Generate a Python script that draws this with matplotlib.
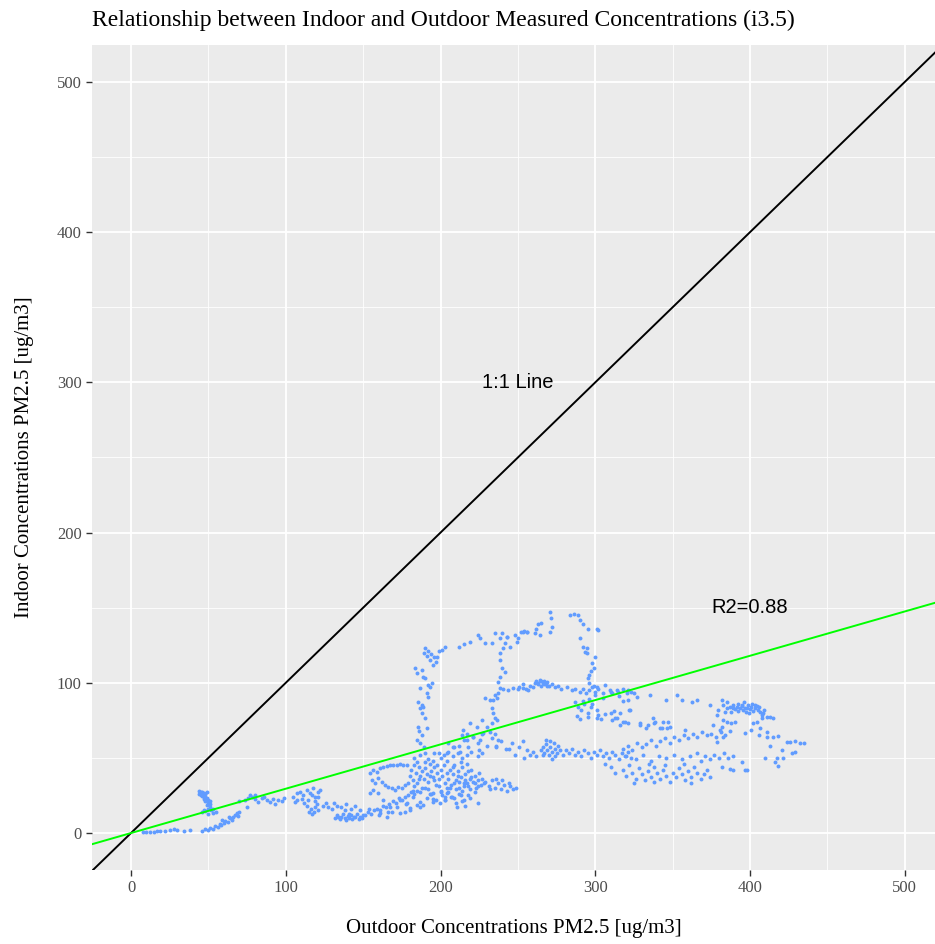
import matplotlib.pyplot as plt
import numpy as np

# Outdoor / indoor PM2.5 readings (ug/m3), grouped by stretch of the record
low_tail = [(8, 0.5), (10, 1), (12, 0.8), (15, 0.7), (17, 1.5), (19, 1.2), (22, 1.3), (25, 2),
            (28, 2.7), (30, 1.8), (34, 1.3), (38, 2.2)]
spike_50 = [(44, 28), (45, 27), (46, 27.5), (47, 26.5), (48, 26), (45, 25.5), (46, 24.5), (48, 24),
            (49, 23), (50, 22), (47, 22.5), (48, 21), (50, 20), (51, 19), (49, 18.5), (51, 17.5),
            (50, 16), (52, 15), (48, 14.5), (46, 14), (50, 13), (53, 13.5), (47, 24), (49, 27),
            (51, 21), (44, 26), (53, 16), (47, 15), (55, 14)]
rise_60 = [(46, 1.5), (48, 2.7), (50, 2), (51, 3.3), (53, 3), (54, 4.7), (56, 4), (57.5, 6),
           (59, 8.7), (61, 8), (62.7, 7.3), (64, 10), (66, 10.7), (67, 12), (68.5, 13.3), (65, 9),
           (60, 6.5), (69, 11.5), (63, 11), (58, 5.2), (70, 14)]
band_80 = [(70, 21), (73.6, 22), (75.6, 23.3), (78.2, 24), (80.1, 22.6), (82, 20.6), (84.6, 23.3),
           (87.9, 22), (89.8, 20.6), (91.7, 22.6), (95, 22), (97.5, 21.3), (75, 17), (77, 25),
           (80, 25), (86, 24), (93, 19.5), (99, 23)]
cluster_110 = [(104.7, 24), (107.2, 26.6), (109.2, 27.3), (111.1, 25.3), (113.7, 28.6), (115.6, 26.6),
               (117.6, 30), (118.9, 24), (120.8, 27.3), (122.1, 28.6), (107.2, 22), (110.5, 22.6),
               (114.3, 22), (116.9, 25.3), (119, 21), (112, 20), (106, 20.5), (121, 24),
               (114, 18), (116, 16), (118, 14), (119, 17), (121, 15), (117, 13), (120, 19), (115, 14)]
band_140 = [(124, 18), (127, 17), (130, 16), (133, 18), (136, 17), (139, 19), (142, 16), (145, 18),
            (148, 15), (126, 20), (131, 20), (138, 15),
            (132, 10), (133, 12), (135, 9.5), (136, 11), (137, 12.5), (138, 10), (139, 9), (140, 11.5),
            (141, 10), (142, 12), (143, 9.5), (144, 11), (145, 10.5), (146, 12.5), (147, 9.5),
            (148, 11), (149, 10), (150, 12), (134, 11), (141, 13)]
rise_170 = [(151, 12), (153, 14), (155, 13), (157, 15), (159, 16), (161, 15), (163, 18), (165, 17),
            (167, 19), (169, 21), (171, 20), (173, 23), (175, 22), (177, 24), (179, 25), (181, 27),
            (183, 26), (185, 28), (154, 16), (160, 12), (166, 14), (172, 17), (178, 19),
            (177, 14), (180, 16.6), (184.7, 18.6), (186.7, 20.6), (191.2, 23.3), (195, 22.6),
            (199.6, 20), (202.8, 22), (207.4, 24), (210.6, 17.3),
            (162.8, 22), (167.3, 17.3), (173.8, 22), (178.3, 20), (182.2, 24), (186.7, 17.3),
            (173.8, 13.3), (180.2, 15.3), (160.9, 13.3), (165.4, 10.6), (168.6, 14),
            (190, 30), (193, 26), (197, 22), (200, 28), (203, 24), (188.6, 18.6), (195, 20.6),
            (195, 26.6), (204, 26.6), (210, 20), (213, 25), (216, 18), (219, 23), (222, 27), (224, 20)]
upper_165 = [(154.4, 40), (156.3, 41.9), (158.9, 40.6), (160.9, 43.3), (162.8, 43.9), (165.4, 44.6),
             (167.3, 45.3), (169.3, 45.3), (171.9, 45.3), (173.8, 45.9), (175.7, 45.3), (178.3, 45.3),
             (155.7, 35.3), (157.6, 33.3), (159.6, 36.6), (162.1, 34), (164.1, 32), (166, 30.6),
             (168.6, 30), (170.5, 28.6), (172.5, 30.6), (175.1, 30), (177, 32), (179, 33.3),
             (156.3, 28.6), (159.6, 26.6), (154.4, 26.6)]
cluster_190 = [(180, 38), (181, 42), (182, 35), (183, 45), (184, 40), (185, 33), (186, 44), (187, 38),
               (188, 41), (189, 36), (190, 43), (191, 39), (192, 34), (193, 46), (194, 41), (195, 37),
               (196, 44), (197, 32), (198, 40), (199, 36), (200, 42), (185, 47), (188, 30), (192, 29),
               (195, 48), (198, 45), (183, 31), (190, 47), (186, 36), (193, 38), (196, 35), (199, 31),
               (201, 38), (202, 45), (203, 33), (204, 40), (182, 28), (187, 27), (194, 26), (200, 27)]
cluster_215 = [(205, 36), (206, 42), (207, 32), (208, 39), (209, 45), (210, 35), (211, 41), (212, 30),
               (213, 37), (214, 44), (215, 33), (216, 39), (217, 46), (218, 31), (219, 36), (220, 42),
               (221, 34), (222, 38), (223, 30), (224, 35), (225, 40), (226, 32), (227, 36), (228, 33),
               (210, 29), (214, 28), (218, 41), (213, 47), (208, 44), (216, 35), (222, 33), (219, 29),
               (211, 38), (206, 30), (224, 31), (215, 31), (212, 34), (209, 33), (220, 37), (217, 33),
               (201, 25), (203, 22), (205, 27), (207, 24), (204, 30), (209, 23), (212, 26), (215, 22),
               (218, 25), (214, 21)]
tail_240 = [(229, 34), (231, 31), (233, 35), (235, 30), (237, 33), (239, 29), (241, 32), (243, 28),
            (245, 31), (247, 29), (249, 30), (236, 36), (240, 35), (244, 33), (232, 29)]
mid_210 = [(199, 53), (202, 52), (205, 54), (208, 51), (211, 53), (214, 50), (217, 52), (220, 54),
           (224, 51), (227, 53), (183, 50), (187, 52), (192, 49), (196, 53), (200, 50), (204, 48),
           (212, 58), (215, 62), (218, 57), (221, 64), (224, 60), (227, 66), (230, 58), (233, 63),
           (236, 57), (239, 61), (242, 56), (217, 66), (225, 55), (232, 67), (209, 57), (214, 65),
           (217, 61.9), (221, 63.9), (225.5, 61.9), (227.4, 66.6), (223.5, 70.6), (219, 73.2),
           (214.5, 68.6), (226.7, 75.2), (230, 70.6), (204, 53.3), (208, 57.3), (212.5, 53.9),
           (204.8, 59.9), (186, 68), (188, 65), (187, 60), (189, 57), (190, 53), (185, 62)]
loop_left = [(183.5, 109.8), (184.7, 106.5), (188, 108.5), (188.6, 103.9), (189.9, 103.2),
             (191.9, 98.5), (193.2, 97.2), (194.4, 99.9), (186.7, 96.5), (191.2, 93.2), (191.9, 90.5),
             (185.4, 87.2), (188, 85.2), (186.7, 83.2), (188.6, 83.9), (188, 79.9), (189.9, 76.6),
             (185.4, 70.6), (191.2, 69.9),
             (190, 123), (192, 121), (194, 119), (196, 117), (191, 118), (193, 115), (197, 114),
             (195, 112), (189, 120), (199, 121), (198, 117),
             (201, 122), (203, 124), (212, 124), (215, 126), (219, 127), (224, 131.8), (225.5, 129.8),
             (228.7, 126.5), (233.2, 126.5), (235.1, 133.2), (238.4, 129.8), (239.7, 133.2),
             (242.9, 130.5), (244.8, 123.8), (248, 131.8), (250, 129.8), (253.2, 133.8),
             (255.8, 133.8), (249.4, 127.2)]
loop_right = [(252, 134), (254, 134.5), (256, 133.5), (261, 133), (262, 136), (263, 139), (265, 140),
              (264, 132), (270.7, 147), (271.5, 143), (272, 137), (271, 134), (283.6, 145),
              (286, 145.5), (289, 145), (290, 142), (292, 139), (295, 136), (290, 130), (292, 124),
              (294.6, 123), (293.3, 120.5), (294.6, 119.8), (300, 117), (298, 113), (299, 110),
              (297, 108), (296, 105), (295, 103), (296, 100), (299, 98), (301, 97), (301, 136),
              (302, 135)]
inner_col = [(238.4, 119.8), (240.3, 123.2), (241.6, 126.5), (242.9, 130.5), (238.4, 115.2),
             (239.7, 109.8), (241.6, 107.2), (238.4, 103.9), (237.1, 100.5), (238.4, 96.5),
             (237.1, 93.2), (235.1, 91.9), (236.4, 89.9), (233.8, 88.5), (231.9, 88.5), (228.7, 89.9),
             (233.2, 83.2), (233.8, 79.9), (235.1, 76.6), (236.4, 75.2), (233.2, 73.2),
             (235, 66), (237, 62), (236, 58)]
band_100 = [(240.3, 95.9), (243.5, 95.2), (246.8, 96.5), (250, 95.9), (253.2, 96.5), (256.5, 95.2),
            (251, 97), (253, 99), (255, 96), (258, 98), (260, 97), (261, 100), (262, 101), (263, 99),
            (264, 102), (265, 98), (266, 100), (267, 101), (268, 99), (269, 100.5), (270, 98),
            (272, 99), (274, 97), (276, 98), (278, 96), (263, 100), (265, 101), (267, 99), (269, 98),
            (282, 97), (285, 95), (287, 96), (290, 94), (292, 96), (294, 93), (296, 95), (298, 97),
            (300, 94), (302, 96), (305, 93), (300, 92), (305, 90), (310, 94), (315, 91), (318, 88),
            (321, 95), (325, 93), (311, 93), (314, 95), (318, 96), (323, 94)]
cross_295 = [(287, 87), (289, 84), (291, 82), (293, 86), (295, 80), (297, 84), (288, 78), (290, 76),
             (292, 88), (296, 89), (298, 86), (295, 77), (301, 76.6), (302, 78.6), (314, 76.6),
             (318, 74), (322, 82), (301, 82), (306, 79), (311, 75), (304, 76), (310, 80), (316, 72),
             (312, 81), (321, 73)]
sparse_330 = [(306, 98.5), (309.6, 95.2), (314.7, 93.9), (320.5, 93.2), (321.2, 88.5), (327, 90.5),
              (335.3, 91.9), (346, 88.5), (352.7, 91.9), (356, 88.5), (362.4, 87.2), (365.6, 88.5),
              (322.4, 81.9), (315.9, 79.9), (312.7, 76.6), (319.1, 73.9), (328.8, 73.2), (337.2, 76.6),
              (338.5, 73.9), (343.7, 73.9), (346.2, 69.9), (348.2, 70.6), (341.7, 69.9), (357.9, 68.6),
              (334, 71.9), (329, 72), (333, 70), (338, 73), (343, 70), (347, 74)]
mid_270 = [(265, 55), (266, 57), (267, 53), (268, 59), (269, 55), (270, 52), (271, 57), (272, 54),
           (273, 60), (274, 56), (275, 53), (276, 58), (277, 55), (268, 62), (271, 61), (274, 51),
           (266, 52), (272, 49), (256, 55), (258, 52), (260, 54), (262, 51), (279, 52), (281, 55),
           (283, 53), (285, 56), (287, 52), (289, 54), (291, 51), (293, 55), (295, 53), (297, 50),
           (299, 54), (301, 52), (303, 55), (305, 51), (307, 53), (309, 50), (311, 54), (313, 52),
           (315, 49), (317, 53), (319, 51), (321, 54), (323, 50), (244, 56), (248, 52), (251, 57),
           (254, 50), (246, 60), (253, 61)]
band_350 = [(318, 56), (321, 58), (324, 55), (327, 60), (330, 57), (333, 59), (336, 62), (339, 58),
            (342, 61), (345, 63), (348, 60), (351, 64), (354, 62), (357, 65), (360, 63), (363, 66),
            (366, 64), (369, 67), (372, 65), (375, 66), (378, 64), (381, 67), (384, 65), (387, 68),
            (320, 51), (326, 49), (331, 52), (336, 48), (341, 51), (346, 50), (351, 52), (356, 49),
            (361, 51), (366, 53), (368, 48), (371, 51), (374, 49), (377, 52), (380, 50), (383, 53),
            (386, 50), (389, 51)]
low_345 = [(318, 42), (320, 38), (322, 45), (324, 40), (326, 36), (328, 43), (330, 39), (332, 35),
           (334, 41), (336, 37), (338, 44), (340, 40), (342, 36), (344, 42), (346, 38), (348, 34),
           (350, 40), (352, 37), (354, 43), (356, 39), (358, 35), (360, 41), (362, 37), (364, 44),
           (366, 40), (368, 36), (370, 39), (372, 42), (374, 37), (335, 46), (345, 45), (357, 46),
           (325, 33), (338, 34), (362, 33), (310, 44), (313, 40), (306, 46), (382, 44), (389, 42),
           (395, 47), (398, 42), (387, 42.6), (397, 42)]
cluster_395 = [(374.0, 85.2), (378.4, 78.6), (381.6, 88.5), (382.6, 85.2), (383.7, 80.8), (384.8, 83.0),
               (387.0, 84.1), (388.0, 80.8), (389.1, 85.2), (390.2, 82.4), (391.3, 84.1), (392.3, 81.4),
               (393.4, 83.0), (394.5, 84.6), (395.5, 81.9), (396.6, 83.4), (397.7, 80.8), (398.8, 85.2),
               (399.9, 82.4), (400.9, 84.1), (402.0, 81.4), (403.1, 83.0), (404.2, 84.6), (405.2, 81.9),
               (406.3, 80.8), (407.4, 78.6), (408.5, 79.7), (410.7, 77.4), (412.8, 77.0), (414.9, 76.4),
               (382.6, 75.2), (384.8, 74.1), (381.6, 70.8), (388.0, 73.0), (390.2, 74.1), (402.0, 73.0),
               (404.2, 74.1), (407.4, 76.4), (400.9, 68.6), (406.3, 69.7), (410.7, 67.4), (380.5, 68.6),
               (378.4, 60.8), (382.6, 64.1), (392, 86), (395, 85), (398, 83), (401, 86), (403, 85),
               (396, 87), (389, 83), (406, 84), (409, 82), (399, 80), (396.6, 66.6), (406, 65),
               (376, 72), (379, 82), (385, 87)]
tail_425 = [(418, 64.6), (423.8, 60.6), (425.7, 60.6), (429, 61.3), (432, 60), (420.5, 55.3), (427, 53.3),
            (429, 53.9), (417.3, 49.9), (421.2, 49.9), (416, 47.3), (418, 44.6), (413, 58), (409.6, 50),
            (435, 60), (411, 64), (415, 64)]

segments = [low_tail, spike_50, rise_60, band_80, cluster_110, band_140, rise_170, upper_165,
            cluster_190, cluster_215, tail_240, mid_210, loop_left, loop_right, inner_col, band_100,
            cross_295, sparse_330, mid_270, band_350, low_345, cluster_395, tail_425]
points = np.array([p for seg in segments for p in seg])
outdoor = points[:, 0]
indoor = points[:, 1]

# regression line drawn on the chart
fit_slope, fit_icpt = 0.295, 0.0
r2 = 0.88

plt.rcParams['font.family'] = ['Liberation Serif', 'DejaVu Serif']

fig = plt.figure(figsize=(9.35, 9.44), dpi=100)
ax = fig.add_axes([0.0984, 0.0784, 0.9016, 0.874])
ax.set_facecolor('#EBEBEB')

xmin, xmax = -25.2, 519.5
ymin, ymax = -24.6, 524.6
ax.set_xlim(xmin, xmax)
ax.set_ylim(ymin, ymax)

ticks = [0, 100, 200, 300, 400, 500]
ax.set_xticks(ticks)
ax.set_yticks(ticks)
ax.set_xticks([50, 150, 250, 350, 450], minor=True)
ax.set_yticks([50, 150, 250, 350, 450], minor=True)
ax.grid(which='major', color='white', linewidth=1.3)
ax.grid(which='minor', color='white', linewidth=0.6)
ax.set_axisbelow(True)
for s in ax.spines.values():
    s.set_visible(False)
ax.tick_params(which='major', length=4, width=1, color='#333333', labelcolor='#4D4D4D', labelsize=12)
ax.tick_params(which='minor', length=0)

ax.scatter(outdoor, indoor, s=8, color='#619CFF', linewidths=0, zorder=2)

xs = np.array([xmin, xmax])
ax.plot(xs, xs, color='black', linewidth=1.4, zorder=3)
ax.plot(xs, fit_slope * xs + fit_icpt, color='#00FF00', linewidth=1.4, zorder=3)

ax.text(250, 300, '1:1 Line', family='Liberation Sans', fontsize=14.5, ha='center', va='center')
ax.text(400, 150, 'R2=%.2f' % r2, family='Liberation Sans', fontsize=14.5, ha='center', va='center')

ax.set_xlabel('Outdoor Concentrations PM2.5 [ug/m3]', fontsize=15, labelpad=16)
ax.set_ylabel('Indoor Concentrations PM2.5 [ug/m3]', fontsize=15, labelpad=16)
fig.text(0.0984, 0.978, 'Relationship between Indoor and Outdoor Measured Concentrations (i3.5)',
         fontsize=17, ha='left', va='center')

fig.savefig('out.png', dpi=100)
